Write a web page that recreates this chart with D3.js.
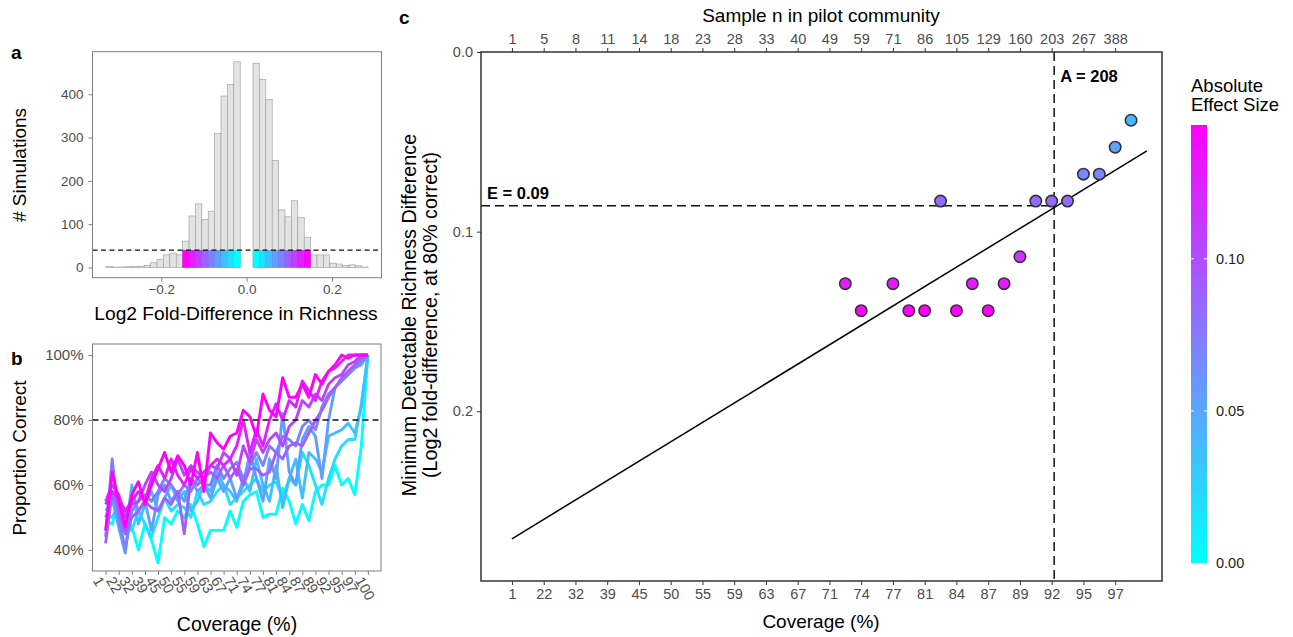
<!DOCTYPE html>
<html><head><meta charset="utf-8">
<script src="https://cdn.jsdelivr.net/npm/d3@7"></script>
<style>
body{margin:0;background:#fff;}
text{font-family:"Liberation Sans",Arial,Helvetica,sans-serif;}
</style>
</head><body><script>
var width=1293, height=637;

// ---- data ----
// panel a: histogram of simulated log2 fold-differences
var histStart=-0.33, binWidth=0.015;
var histCounts=[2,1,1,2,2,3,5,11,18,29,33,29,61,119,147,111,130,310,396,423,475,0,0,471,434,388,247,133,117,154,115,70,29,29,29,10,8,5,6,4,1];
var countCutoff=40;
var histTicksY=[0,100,200,300,400];
var histTicksX=[-0.2,0.0,0.2];

// effect sizes (bin centres) tested in panels a and b
var effectSizes=[0.0225,0.0375,0.0525,0.0675,0.0825,0.0975,0.1125,0.1275,0.1425];
var colourMax=0.144;

// panel b: proportion correct (%) at each coverage step, one row per effect size
var propCorrect=[
 [49,48,55,52,47,40,48,43,36,50,48,52,50,54,48,41,46,46,46,52,47,55,57,58,50,51,51,59,55,48,54,49,58,60,60,66,60,62,57,72,100],
 [51,50,54,48,46,52,48,44,50,56,52,54,53,50,58,54,55,58,60,54,56,58,60,62,58,60,61,56,62,60,70,66,60,54,62,68,72,74,74,85,100],
 [52,55,50,45,60,48,54,58,52,56,60,55,58,52,55,60,58,64,60,58,55,62,58,68,60,55,66,53,62,68,56,70,68,64,75,76,77,79,76,84,100],
 [50,56,47,39,58,52,55,46,57,60,55,58,55,62,58,60,56,62,58,62,56,60,70,62,55,68,62,82,64,60,74,78,75,62,80,90,92,94,96,97,100],
 [44,68,50,40,52,55,57,55,58,62,60,57,60,58,62,60,60,66,62,65,67,62,66,70,66,72,70,75,74,72,78,80,77,84,88,90,92,94,96,98,100],
 [42,58,52,45,50,52,55,53,52,56,54,58,45,62,60,62,64,62,66,62,65,60,65,65,63,64,70,68,72,73,72,76,80,83,87,90,93,95,97,99,100],
 [55,60,57,50,54,55,60,64,60,58,62,68,63,66,64,62,66,65,70,68,63,72,67,74,70,74,76,72,78,80,86,84,88,86,91,93,94,97,98,100,100],
 [54,58,56,52,55,58,55,62,66,62,68,63,60,65,62,64,66,68,66,68,72,80,70,77,72,80,85,80,86,84,92,89,86,92,95,96,98,100,100,100,100],
 [46,64,55,47,57,61,54,60,65,70,64,69,66,60,70,58,76,73,71,75,76,83,81,75,88,83,81,93,87,87,91,87,94,91,95,97,100,99,100,100,100]
];
var coverageLabelsB=["1","22","32","39","45","50","55","59","63","67","71","74","77","81","84","87","89","92","95","97","100"];
var targetPct=80;
var pctTicks=[40,60,80,100];

// panel c: minimum detectable difference at each coverage step
var pointStep=[21,22,24,25,26,27,28,29,30,31,32,33,34,35,36,37,38,39];
var pointMDE=[0.129,0.144,0.129,0.144,0.144,0.083,0.144,0.129,0.144,0.129,0.114,0.083,0.083,0.083,0.068,0.068,0.053,0.038];
var fitStep=[0,40], fitMDE=[0.271,0.055];
var coverageLabelsC=["1","22","32","39","45","50","55","59","63","67","71","74","77","81","84","87","89","92","95","97"];
var sampleLabels=[1,5,8,11,14,18,23,28,33,40,49,59,71,86,105,129,160,203,267,388];
var mdeTicks=[0.0,0.1,0.2];
var sampleA=208, effectE=0.0856;
var legendTicks=[0.00,0.05,0.10];

var svg=d3.select("body").append("svg").attr("width",width).attr("height",height);
var colour=d3.scaleLinear().domain([0,colourMax]).range(["#00ffff","#ff00ff"]).interpolate(d3.interpolateRgb);
var effColour=d3.scaleLinear().domain(d3.extent(effectSizes)).range(["#00ffff","#ff00ff"]).interpolate(d3.interpolateRgb);
var tickGrey="#4d4d4d";

function styleAxis(g,col,fs){
	g.select(".domain").remove();
	g.selectAll(".tick line").attr("stroke",col);
	g.selectAll(".tick text").attr("fill",tickGrey).attr("font-size",fs).attr("font-family","Liberation Sans, Arial, sans-serif");
}

// ================= panel a =================
var ax=d3.scaleLinear().domain([-0.3613,0.3162]).range([92.5,381.5]);
var ay=d3.scaleLinear().domain([-23.6,498.3]).range([277.7,51.7]);

histCounts.forEach(function(c,i){
	if(c<=0) return;
	var lo=histStart+i*binWidth;
	svg.append("rect").attr("x",ax(lo)).attr("width",ax(lo+binWidth)-ax(lo))
		.attr("y",ay(c)).attr("height",ay(0)-ay(c))
		.attr("fill","#e3e3e3").attr("stroke","#9a9a9a").attr("stroke-width",0.6);
});
// coloured part of the bins inside the tested effect size range
histCounts.forEach(function(c,i){
	var lo=histStart+i*binWidth, mid=Math.abs(lo+binWidth/2);
	if(c<=0||mid<0.015||mid>0.15) return;
	var col=effColour(mid);
	svg.append("rect").attr("x",ax(lo)).attr("width",ax(lo+binWidth)-ax(lo))
		.attr("y",ay(countCutoff)).attr("height",ay(0)-ay(countCutoff))
		.attr("fill",col).attr("stroke",d3.color(col).darker(0.3)).attr("stroke-width",0.4);
});
svg.append("line").attr("x1",92.5).attr("x2",381.5).attr("y1",ay(countCutoff)).attr("y2",ay(countCutoff))
	.attr("stroke","#111").attr("stroke-width",1.3).attr("stroke-dasharray","5,3.5");
svg.append("rect").attr("x",92.5).attr("y",51.7).attr("width",289).attr("height",226).attr("fill","none").attr("stroke","#7f7f7f").attr("stroke-width",1);
var gay=svg.append("g").attr("transform","translate(92.5,0)").call(d3.axisLeft(ay).tickValues(histTicksY).tickSize(4).tickPadding(5));
styleAxis(gay,"#7f7f7f",13.5);
var gax=svg.append("g").attr("transform","translate(0,277.7)").call(d3.axisBottom(ax).tickValues(histTicksX).tickSize(4).tickPadding(3).tickFormat(d3.format(".1f")));
styleAxis(gax,"#7f7f7f",13.5);
svg.append("text").attr("x",236).attr("y",320).attr("text-anchor","middle").attr("font-size",19.2).text("Log2 Fold-Difference in Richness");
svg.append("text").attr("transform","translate(26,165) rotate(-90)").attr("text-anchor","middle").attr("font-size",19).text("# Simulations");
svg.append("text").attr("x",11).attr("y",59).attr("font-size",19).attr("font-weight","bold").text("a");

// ================= panel b =================
var bx=d3.scaleLinear().domain([-2,42]).range([92.5,381]);
var by=d3.scaleLinear().domain([33.5,103.4]).range([571,344]);
var bline=d3.line().x(function(d,i){return bx(i);}).y(function(d){return by(d);});
propCorrect.forEach(function(row,k){
	svg.append("path").attr("d",bline(row)).attr("fill","none").attr("stroke",effColour(effectSizes[k]))
		.attr("stroke-width",2.9).attr("stroke-linejoin","round");
});
svg.append("line").attr("x1",92.5).attr("x2",381).attr("y1",by(targetPct)).attr("y2",by(targetPct))
	.attr("stroke","#111").attr("stroke-width",1.3).attr("stroke-dasharray","6,4");
svg.append("rect").attr("x",92.5).attr("y",344).attr("width",288.5).attr("height",227).attr("fill","none").attr("stroke","#7f7f7f").attr("stroke-width",1);
var gby=svg.append("g").attr("transform","translate(92.5,0)").call(d3.axisLeft(by).tickValues(pctTicks).tickSize(4).tickPadding(5).tickFormat(function(d){return d+"%";}));
styleAxis(gby,"#7f7f7f",15);
var gbx=svg.append("g").attr("transform","translate(0,571)").call(d3.axisBottom(bx).tickValues(d3.range(0,41,2)).tickSize(4).tickPadding(2).tickFormat(function(d,i){return coverageLabelsB[i];}));
styleAxis(gbx,"#7f7f7f",14.5);
gbx.selectAll(".tick text").attr("text-anchor","start").attr("dy","0.35em").attr("transform","translate(-4,4) rotate(60)");
svg.append("text").attr("x",237).attr("y",631).attr("text-anchor","middle").attr("font-size",19.5).text("Coverage (%)");
svg.append("text").attr("transform","translate(26,458) rotate(-90)").attr("text-anchor","middle").attr("font-size",19).text("Proportion Correct");
svg.append("text").attr("x",11).attr("y",365).attr("font-size",19).attr("font-weight","bold").text("b");

// ================= panel c =================
var cx=d3.scaleLinear().domain([-1.95,40.95]).range([481,1162]);
var cy=d3.scaleLinear().domain([0,0.2945]).range([52,581]);
var sampleToStep=d3.scaleLinear().domain(sampleLabels).range(d3.range(0,39,2));

var xA=cx(sampleToStep(sampleA));
svg.append("line").attr("x1",xA).attr("x2",xA).attr("y1",52).attr("y2",581)
	.attr("stroke","#111").attr("stroke-width",1.5).attr("stroke-dasharray","9,5");
svg.append("line").attr("x1",481).attr("x2",xA).attr("y1",cy(effectE)).attr("y2",cy(effectE))
	.attr("stroke","#111").attr("stroke-width",1.5).attr("stroke-dasharray","9,5");
svg.append("line").attr("x1",cx(fitStep[0])).attr("x2",cx(fitStep[1])).attr("y1",cy(fitMDE[0])).attr("y2",cy(fitMDE[1]))
	.attr("stroke","#000").attr("stroke-width",1.5);
svg.append("g").selectAll("circle").data(pointStep).enter().append("circle")
	.attr("cx",function(d){return cx(d);})
	.attr("cy",function(d,i){return cy(pointMDE[i]);})
	.attr("r",5.7)
	.attr("fill",function(d,i){return colour(pointMDE[i]);})
	.attr("stroke","#333").attr("stroke-width",1.6);

svg.append("text").attr("x",xA+6).attr("y",82).attr("font-size",16.5).attr("font-weight","bold").text("A = "+sampleA);
svg.append("text").attr("x",487).attr("y",cy(effectE)-7).attr("font-size",16.5).attr("font-weight","bold").text("E = "+effectE.toFixed(2));

svg.append("rect").attr("x",481).attr("y",52).attr("width",681).attr("height",529).attr("fill","none").attr("stroke","#333").attr("stroke-width",1.5);
var gcy=svg.append("g").attr("transform","translate(481,0)").call(d3.axisLeft(cy).tickValues(mdeTicks).tickSize(4).tickPadding(4).tickFormat(d3.format(".1f")));
styleAxis(gcy,"#333",14.5);
var gcb=svg.append("g").attr("transform","translate(0,581)").call(d3.axisBottom(cx).tickValues(d3.range(0,39,2)).tickSize(4).tickPadding(4).tickFormat(function(d,i){return coverageLabelsC[i];}));
styleAxis(gcb,"#333",14.5);
var gct=svg.append("g").attr("transform","translate(0,52)").call(d3.axisTop(cx).tickValues(d3.range(0,39,2)).tickSize(4).tickPadding(4).tickFormat(function(d,i){return sampleLabels[i];}));
styleAxis(gct,"#333",14.5);

svg.append("text").attr("x",821).attr("y",628).attr("text-anchor","middle").attr("font-size",19).text("Coverage (%)");
svg.append("text").attr("x",821).attr("y",22).attr("text-anchor","middle").attr("font-size",19).text("Sample n in pilot community");
svg.append("text").attr("transform","translate(416,315) rotate(-90)").attr("text-anchor","middle").attr("font-size",19.8).text("Minimum Detectable Richness Difference");
svg.append("text").attr("transform","translate(437,315) rotate(-90)").attr("text-anchor","middle").attr("font-size",19.8).text("(Log2 fold-difference, at 80% correct)");
svg.append("text").attr("x",399).attr("y",24).attr("font-size",19).attr("font-weight","bold").text("c");

// ================= colour legend =================
var ly=d3.scaleLinear().domain([0,colourMax]).range([563,125]);
var grad=svg.append("defs").append("linearGradient").attr("id","effgrad").attr("x1",0).attr("x2",0).attr("y1",1).attr("y2",0);
d3.range(0,1.0001,0.1).forEach(function(t){
	grad.append("stop").attr("offset",t).attr("stop-color",colour(t*colourMax));
});
svg.append("rect").attr("x",1191).attr("y",125).attr("width",16).attr("height",438).attr("fill","url(#effgrad)");
legendTicks.forEach(function(v){
	if(v>0){
		svg.append("line").attr("x1",1191).attr("x2",1194).attr("y1",ly(v)).attr("y2",ly(v)).attr("stroke","#fff").attr("stroke-width",1);
		svg.append("line").attr("x1",1204).attr("x2",1207).attr("y1",ly(v)).attr("y2",ly(v)).attr("stroke","#fff").attr("stroke-width",1);
	}
	svg.append("text").attr("x",1216).attr("y",ly(v)).attr("dy","0.35em").attr("font-size",14.5).attr("fill","#222").text(v.toFixed(2));
});
svg.append("text").attr("x",1191).attr("y",92).attr("font-size",18.5).text("Absolute");
svg.append("text").attr("x",1191).attr("y",111).attr("font-size",18.5).text("Effect Size");
</script></body></html>
